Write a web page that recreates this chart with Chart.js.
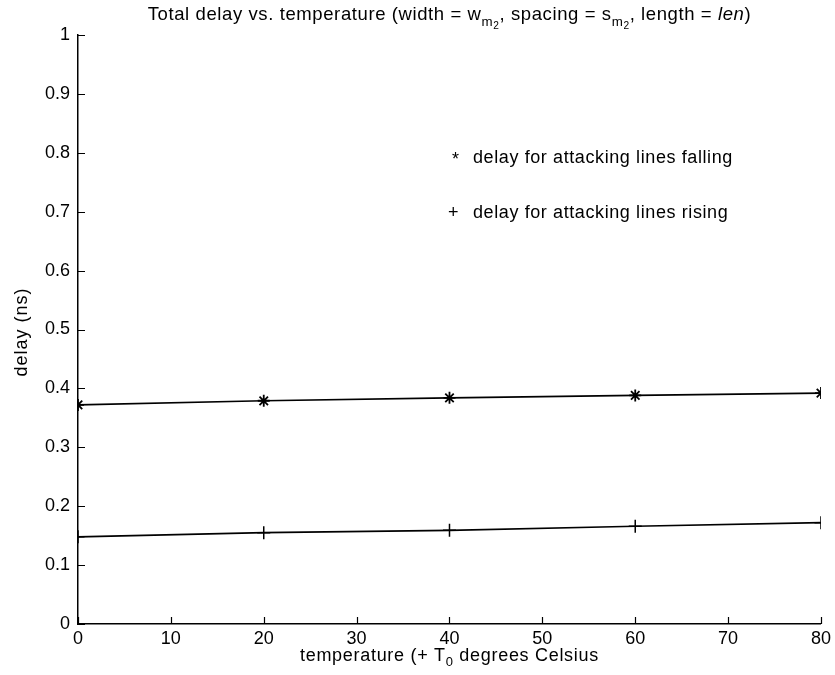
<!DOCTYPE html>
<html>
<head>
<meta charset="utf-8">
<title>Total delay vs. temperature</title>
<script src="https://cdn.jsdelivr.net/npm/chart.js@4.4.1/dist/chart.umd.min.js"></script>
<style>
  html, body { margin: 0; padding: 0; background: #fff; }
  #wrap { width: 835px; height: 675px; }
</style>
</head>
<body>
<div id="wrap"><canvas id="delayChart" width="835" height="675"></canvas></div>
<script>
// Data
const temperatures = [0, 20, 40, 60, 80];
const delayFalling = [0.372, 0.379, 0.384, 0.388, 0.392];
const delayRising = [0.148, 0.155, 0.159, 0.166, 0.172];
const xTickLabels = ['0', '10', '20', '30', '40', '50', '60', '70', '80'];
const yTickLabels = ['0', '0.1', '0.2', '0.3', '0.4', '0.5', '0.6', '0.7', '0.8', '0.9', '1'];

const FONT = '"Liberation Sans", Arial, Helvetica, sans-serif';

// width of a run list, so it can be centred
function runsFont(r, size) {
    let s = size;
    if (r.sub) s = size * 0.72;
    if (r.subsub) s = size * 0.55;
    return { font: (r.italic ? 'italic ' : '') + s + 'px ' + FONT, s: s };
}

function runsWidth(ctx, runs, size) {
    let w = 0;
    runs.forEach(r => {
        ctx.font = runsFont(r, size).font;
        w += ctx.measureText(r.t).width;
    });
    return w;
}

// draw a sequence of text runs (normal / sub / subsub / italic)
function drawRuns(ctx, runs, x, y, size) {
    let cx = x;
    runs.forEach(r => {
        let dy = 0;
        if (r.sub) dy = size * 0.3;
        if (r.subsub) dy = size * 0.5;
        ctx.font = runsFont(r, size).font;
        ctx.fillText(r.t, cx, y + dy);
        cx += ctx.measureText(r.t).width;
    });
}

const titleRuns = [
    { t: 'Total delay vs. temperature (width = w' },
    { t: 'm', sub: 1 }, { t: '2', subsub: 1 },
    { t: ', spacing = s' },
    { t: 'm', sub: 1 }, { t: '2', subsub: 1 },
    { t: ', length = ' },
    { t: 'len', italic: 1 },
    { t: ')' }
];
const xTitleRuns = [
    { t: 'temperature (+ T' },
    { t: '0', sub: 1 },
    { t: ' degrees Celsius' }
];

// Annotations, title and inward ticks, MATLAB style
const matlabDecor = {
    id: 'matlabDecor',
    afterDraw(chart) {
        const ctx = chart.ctx;
        const xs = chart.scales.x, ys = chart.scales.y;
        const area = chart.chartArea;
        ctx.save();
        ctx.strokeStyle = '#000';
        ctx.lineWidth = 1.2;
        ctx.beginPath();
        xs.ticks.forEach(t => {
            const px = Math.round(xs.getPixelForValue(t.value)) + 0.5;
            ctx.moveTo(px, area.bottom);
            ctx.lineTo(px, area.bottom - 7);
        });
        ys.ticks.forEach(t => {
            const py = Math.round(ys.getPixelForValue(t.value)) + 0.5;
            ctx.moveTo(area.left, py);
            ctx.lineTo(area.left + 7, py);
        });
        ctx.stroke();

        ctx.fillStyle = '#000';
        ctx.textBaseline = 'alphabetic';
        ctx.textAlign = 'left';

        // title, centred over the axes
        ctx.letterSpacing = '0.6px';
        const tw = runsWidth(ctx, titleRuns, 18.5);
        drawRuns(ctx, titleRuns, (area.left + area.right) / 2 - tw / 2, 20, 18.5);

        // text annotations
        ctx.font = '18px ' + FONT;
        ctx.fillText('*', 452, 165);
        ctx.fillText('delay for attacking lines falling', 473, 163);
        ctx.fillText('+', 448, 218);
        ctx.fillText('delay for attacking lines rising', 473, 218);

        // x axis title
        ctx.letterSpacing = '0.7px';
        drawRuns(ctx, xTitleRuns, 300, 661, 18);

        // y axis title
        ctx.letterSpacing = '1px';
        ctx.translate(27, 332);
        ctx.rotate(-Math.PI / 2);
        ctx.textAlign = 'center';
        ctx.font = '18px ' + FONT;
        ctx.fillText('delay (ns)', 0, 0);
        ctx.restore();
    }
};

new Chart(document.getElementById('delayChart'), {
    type: 'line',
    data: {
        datasets: [{
            label: 'delay for attacking lines falling',
            data: temperatures.map((t, i) => ({ x: t, y: delayFalling[i] })),
            borderColor: '#000',
            backgroundColor: '#000',
            borderWidth: 1.7,
            pointStyle: 'star',
            pointRadius: 6,
            pointBorderWidth: 1.8,
            tension: 0
        }, {
            label: 'delay for attacking lines rising',
            data: temperatures.map((t, i) => ({ x: t, y: delayRising[i] })),
            borderColor: '#000',
            backgroundColor: '#000',
            borderWidth: 1.7,
            pointStyle: 'cross',
            pointRadius: 6.5,
            pointBorderWidth: 1.5,
            tension: 0
        }]
    },
    options: {
        responsive: false,
        animation: false,
        devicePixelRatio: 1,
        layout: { padding: { top: 35, right: 14, left: 0, bottom: 0 } },
        plugins: {
            legend: { display: false },
            tooltip: { enabled: false },
            title: { display: false }
        },
        scales: {
            x: {
                type: 'linear',
                min: 0,
                max: 80,
                afterFit: s => { s.height = 51; },
                border: { display: true, color: '#000', width: 1.5 },
                grid: { drawOnChartArea: false, drawTicks: false },
                ticks: {
                    stepSize: 10,
                    padding: 4,
                    maxRotation: 0,
                    color: '#000',
                    font: { family: FONT, size: 18 },
                    callback: (v, i) => xTickLabels[i]
                }
            },
            y: {
                type: 'linear',
                min: 0,
                max: 1,
                afterFit: s => { s.width = 78; },
                border: { display: true, color: '#000', width: 1.5 },
                grid: { drawOnChartArea: false, drawTicks: false },
                ticks: {
                    stepSize: 0.1,
                    padding: 8,
                    color: '#000',
                    font: { family: FONT, size: 18 },
                    callback: (v, i) => yTickLabels[i]
                }
            }
        }
    },
    plugins: [matlabDecor]
});
</script>
</body>
</html>
